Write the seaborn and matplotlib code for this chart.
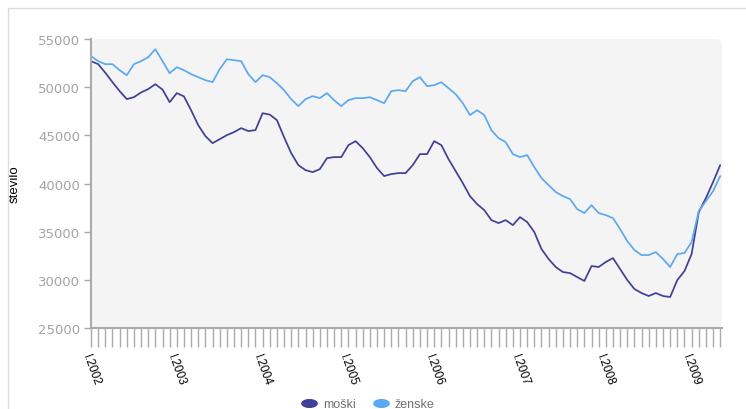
import numpy as np
import pandas as pd
import matplotlib
matplotlib.use("Agg")
import matplotlib.pyplot as plt
import seaborn as sns
from matplotlib.lines import Line2D
from matplotlib.path import Path
from matplotlib.patches import Rectangle, FancyBboxPatch
from matplotlib.transforms import ScaledTranslation

years = [2002, 2003, 2004, 2005, 2006, 2007, 2008, 2009]
year_labels = ["I.2002", "I.2003", "I.2004", "I.2005", "I.2006", "I.2007", "I.2008", "I.2009"]

moski = [52700, 52390, 51500, 50520, 49590, 48760, 48960, 49450, 49800, 50310,
         49750, 48440, 49380, 49040, 47610, 46050, 44920, 44190, 44600, 45020,
         45330, 45750, 45440, 45540, 47300, 47150, 46580, 44810, 43150, 41910,
         41390, 41180, 41490, 42630, 42740, 42740, 43980, 44400, 43670, 42740,
         41600, 40770, 40980, 41080, 41080, 41910, 43050, 43050, 44400, 43980,
         42530, 41290, 40040, 38690, 37860, 37240, 36200, 35890, 36200, 35680,
         36510, 36000, 34960, 33200, 32160, 31330, 30810, 30700, 30290, 29880,
         31430, 31330, 31850, 32260, 31120, 29980, 29050, 28630, 28320, 28630,
         28320, 28220, 29980, 30910, 32680, 37030, 38490, 40150, 41910]

zenske = [53220, 52700, 52390, 52390, 51760, 51240, 52390, 52700, 53110, 53940,
          52700, 51450, 52070, 51760, 51350, 51040, 50730, 50520, 51870, 52900,
          52800, 52700, 51350, 50520, 51240, 51040, 50410, 49690, 48750, 48030,
          48750, 49070, 48860, 49380, 48650, 48030, 48650, 48860, 48860, 48960,
          48650, 48340, 49590, 49690, 49590, 50620, 51040, 50100, 50210, 50520,
          49900, 49270, 48340, 47100, 47610, 47100, 45540, 44710, 44290, 43050,
          42740, 42950, 41700, 40560, 39830, 39110, 38690, 38380, 37340, 36930,
          37760, 36930, 36720, 36410, 35270, 34020, 33090, 32570, 32570, 32880,
          32160, 31330, 32680, 32780, 33920, 37140, 38170, 39210, 40770]

series_names = ["moški", "ženske"]
colors = {"moški": "#3f3f9c", "ženske": "#59a9f7"}

n = len(moski)
months = np.arange(n)
df = pd.DataFrame({
    "mesec": np.concatenate([months, months]),
    "število": np.concatenate([moski, zenske]),
    "spol": ["moški"] * n + ["ženske"] * n,
})

sns.set_theme(style="white")
plt.rcParams["font.family"] = ["Liberation Sans", "DejaVu Sans"]

fig = plt.figure(figsize=(7.46, 4.10), dpi=100)
ax = fig.add_axes([91 / 746, 1 - 329 / 410, (722 - 91) / 746, (329 - 40) / 410])
ax.patch.set_visible(False)

# rounded light-grey plot background
bg = FancyBboxPatch((0, 0), 1, 1, boxstyle="round,pad=0,rounding_size=0.01",
                    mutation_aspect=(631 / 289), transform=ax.transAxes,
                    facecolor="#f4f4f4", edgecolor="none", zorder=0)
ax.add_patch(bg)

sns.lineplot(data=df, x="mesec", y="število", hue="spol", palette=colors,
             linewidth=1.25, ax=ax, legend=False)

ax.set_xlim(0, n - 1 + 0.25)
ax.set_ylim(25000, 55000)
yt = [25000, 30000, 35000, 40000, 45000, 50000, 55000]
ax.set_yticks(yt)
ax.set_yticklabels([str(v) for v in yt],
                   fontfamily="DejaVu Sans", fontsize=9.5, color="#a4a4a4")

ax.set_xticks(months)
labels = []
for i in months:
    if i % 12 == 0 and i // 12 < len(year_labels):
        labels.append(year_labels[i // 12])
    else:
        labels.append("")
ax.set_xticklabels(labels, rotation=-70, ha="left", va="top",
                   rotation_mode="anchor", fontsize=8.5, color="black")
off = ScaledTranslation(-4 / 100, 0, fig.dpi_scale_trans)
for lab in ax.get_xticklabels():
    lab.set_transform(lab.get_transform() + off)
ax.tick_params(axis="x", length=14, width=1, color="#aaaaaa", pad=3, direction="out", bottom=True)
ax.tick_params(axis="y", length=5, width=1, color="#aaaaaa", pad=3, direction="out", left=True)

for s in ["top", "right"]:
    ax.spines[s].set_visible(False)
for s in ["left", "bottom"]:
    ax.spines[s].set_color("#aaaaaa")
    ax.spines[s].set_linewidth(1.5)

ax.set_xlabel("")
ax.set_ylabel("število", fontsize=9.5, color="black", labelpad=12)

# legend with ellipse markers
t = np.linspace(0, 2 * np.pi, 40)
ell = Path(np.column_stack([np.cos(t) * 1.0, np.sin(t) * 0.5]))
handles = [Line2D([0], [0], linestyle="none", marker=ell, markersize=11,
                  markerfacecolor=colors[k], markeredgecolor=colors[k]) for k in series_names]
fig.legend(handles, series_names, loc="center", bbox_to_anchor=(0.49, 0.012),
           ncol=2, frameon=False, fontsize=9, labelcolor="#707070",
           handletextpad=0.1, columnspacing=1.0)

fig.patches.append(Rectangle((8 / 746, -0.1), 1.2, 1.1 - 9 / 410,
                             transform=fig.transFigure, fill=False,
                             edgecolor="#dcdcdc", linewidth=1))

fig.savefig("out.png", dpi=100, facecolor="white")
